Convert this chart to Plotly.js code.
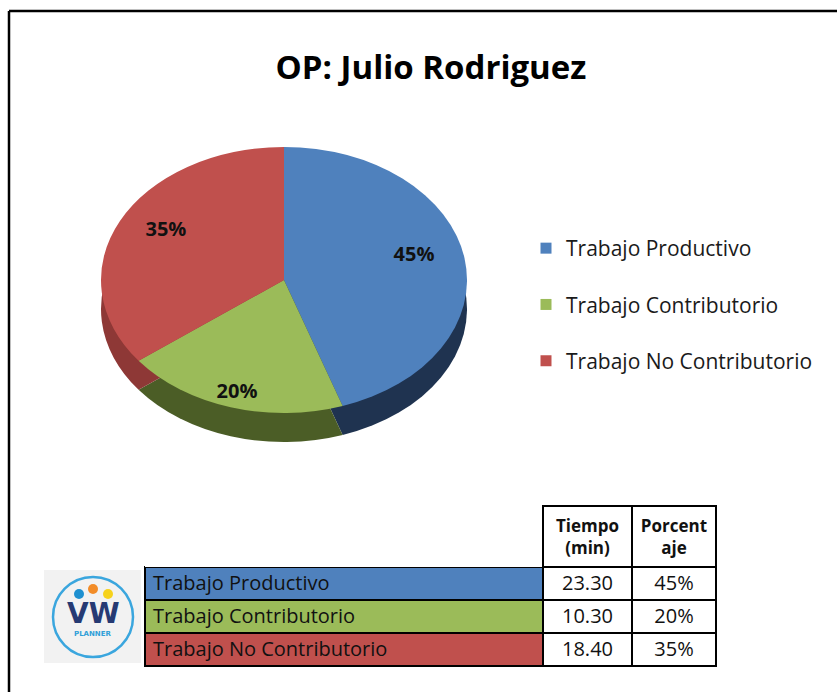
<!DOCTYPE html>
<html>
<head>
<meta charset="utf-8">
<script src="https://cdn.plot.ly/plotly-3.0.1.min.js"></script>
<style>
  html, body { margin: 0; padding: 0; background: #ffffff; }
  #chart { width: 837px; height: 692px; }
</style>
</head>
<body>
<div id="chart"></div>
<script>
// ---- data ----
const categories = ['Trabajo Productivo', 'Trabajo Contributorio', 'Trabajo No Contributorio'];
const tiempoMin = [23.30, 10.30, 18.40];
const headerLabels = ['', '<b>Tiempo<br>(min)</b>', '<b>Porcent<br>aje</b>'];
const chartTitle = 'OP: Julio Rodriguez';

// ---- styles ----
const topColors = ['#4F81BD', '#9BBB59', '#C0504D'];
const sideColors = ['#1F3350', '#4B5D26', '#8E3836'];
const FONT = '"Open Sans", Lato, sans-serif';
const W = 837, H = 692;
const K = 0.727;      // vertical squash of the tilted pie
const DEPTH = 29;     // thickness of the pie side in px
// perspective used for placing the percent labels on the tilted face
const LBL = { cy: 268, cyFront: 272, rBack: 125, rFront: 141, fBack: 0.72, fFront: 0.88 };

const total = tiempoMin.reduce((a, b) => a + b, 0);
const percents = tiempoMin.map(v => v / total);

function px(x) { return x / W; }
function py(y) { return 1 - y / H; }

// pie placement: centre (284,280) px, radius 183 px
const pieDomain = { x: [px(284 - 183), px(284 + 183)], y: [py(280 + 183), py(280 - 183)] };

const sidePie = {
  type: 'pie', values: tiempoMin, labels: categories, sort: false, direction: 'clockwise', rotation: 0,
  marker: { colors: sideColors, line: { width: 0 } },
  textinfo: 'none', hoverinfo: 'skip', showlegend: false, domain: pieDomain
};
const topPie = {
  type: 'pie', values: tiempoMin, labels: categories, sort: false, direction: 'clockwise', rotation: 0,
  marker: { colors: topColors, line: { width: 0 } },
  texttemplate: '%{percent:.0%}', textposition: 'inside', insidetextorientation: 'horizontal',
  textfont: { family: FONT, size: 20, weight: 'bold', color: '#111111' },
  hoverinfo: 'label+percent', showlegend: false, domain: pieDomain
};

// legend entries (one group each so spacing can be set)
const legendTraces = categories.map((c, i) => ({
  type: 'scatter', x: [null], y: [null], mode: 'markers', name: c, legendgroup: 'g' + i,
  marker: { symbol: 'square', size: 11, color: topColors[i] }, hoverinfo: 'skip'
}));

const table = {
  type: 'table',
  domain: { x: [px(145), px(716)], y: [py(685), py(506)] },
  columnwidth: [398, 89, 84],
  header: {
    values: headerLabels,
    align: 'center',
    height: 57,
    fill: { color: ['#ffffff', '#ffffff', '#ffffff'] },
    line: { color: ['rgba(0,0,0,0)', '#000000', '#000000'], width: 1.5 },
    font: { family: FONT, size: 17, color: '#111111' }
  },
  cells: {
    values: [categories, tiempoMin, percents],
    format: ['', '.2f', '.0%'],
    align: ['left', 'center', 'center'],
    height: 33,
    fill: { color: [topColors, ['#ffffff', '#ffffff', '#ffffff'], ['#ffffff', '#ffffff', '#ffffff']] },
    line: { color: '#000000', width: 1.5 },
    font: { family: FONT, size: 20, color: '#111111' }
  }
};

// logo + frame decorations
const shapes = [
  { type: 'line', xref: 'paper', yref: 'paper', x0: px(9), x1: 1, y0: py(11), y1: py(11), line: { color: '#000', width: 2.5 } },
  { type: 'line', xref: 'paper', yref: 'paper', x0: px(9), x1: px(9), y0: py(11), y1: 0, line: { color: '#000', width: 2.5 } },
  { type: 'rect', xref: 'paper', yref: 'paper', x0: px(44), x1: px(141), y0: py(663), y1: py(570), fillcolor: '#F2F2F2', line: { width: 0 } },
  { type: 'circle', xref: 'paper', yref: 'paper', x0: px(53), x1: px(133), y0: py(657), y1: py(577), line: { color: '#3AA6DE', width: 2.5 } },
  { type: 'circle', xref: 'paper', yref: 'paper', x0: px(74), x1: px(84), y0: py(599), y1: py(589), fillcolor: '#1E90D0', line: { width: 0 } },
  { type: 'circle', xref: 'paper', yref: 'paper', x0: px(88), x1: px(98), y0: py(594), y1: py(584), fillcolor: '#F28C28', line: { width: 0 } },
  { type: 'circle', xref: 'paper', yref: 'paper', x0: px(103), x1: px(113), y0: py(599), y1: py(589), fillcolor: '#F6D21C', line: { width: 0 } }
];
const annotations = [
  { xref: 'paper', yref: 'paper', x: px(93), y: py(613), text: '<b>VW</b>', showarrow: false,
    font: { family: '"DejaVu Sans", sans-serif', size: 28, color: '#263A73' }, xanchor: 'center', yanchor: 'middle' },
  { xref: 'paper', yref: 'paper', x: px(93), y: py(634), text: '<b>PLANNER</b>', showarrow: false,
    font: { family: '"DejaVu Sans", sans-serif', size: 7, color: '#2F9FD8' }, xanchor: 'center', yanchor: 'middle' }
];

const layout = {
  width: W, height: H, autosize: false,
  margin: { l: 0, r: 0, t: 0, b: 0, pad: 0 },
  paper_bgcolor: '#ffffff', plot_bgcolor: '#ffffff',
  title: { text: '<b>' + chartTitle + '</b>', x: px(431), y: py(67), xanchor: 'center', yanchor: 'middle',
           font: { family: FONT, size: 33, color: '#000000' } },
  xaxis: { visible: false }, yaxis: { visible: false },
  showlegend: true,
  legend: { x: px(526), y: py(228), xanchor: 'left', yanchor: 'top', traceorder: 'grouped', tracegroupgap: 26,
            font: { family: FONT, size: 21, color: '#1a1a1a' }, bgcolor: 'rgba(0,0,0,0)' },
  shapes: shapes,
  annotations: annotations
};

const gd = document.getElementById('chart');
Plotly.newPlot(gd, [sidePie, topPie, table].concat(legendTraces), layout, { staticPlot: true, displayModeBar: false })
  .then(finish);

function finish() {
  const cd0 = gd.calcdata[1][0];
  const cx = cd0.cx, cy = cd0.cy, r = cd0.r;
  const traces = gd.querySelectorAll('.pielayer .trace');
  // tilt the pie: squash vertically around its centre, side layer pushed down
  traces.forEach((g, i) => {
    const off = (i === 0) ? DEPTH : 0;
    g.querySelectorAll('path.surface').forEach(p => {
      p.setAttribute('transform', 'translate(0,' + (cy * (1 - K) + off) + ') scale(1,' + K + ')');
    });
  });
  // percent labels at the mid-angle of each slice on the tilted face
  const svgRect = gd.querySelector('svg.main-svg').getBoundingClientRect();
  let cum = 0;
  const mids = tiempoMin.map(v => { const m = (cum + v / 2) / total * 2 * Math.PI; cum += v; return m; });
  traces[1].querySelectorAll('g.slice').forEach((s, i) => {
    const t = s.querySelector('g.slicetext');
    if (!t) return;
    const b = t.getBoundingClientRect();
    const bx = b.left + b.width / 2 - svgRect.left;
    const by = b.top + b.height / 2 - svgRect.top;
    const c = Math.cos(mids[i]);
    const back = c >= 0;
    const f = back ? LBL.fBack : LBL.fFront;
    const rv = back ? LBL.rBack : LBL.rFront;
    const c0 = back ? LBL.cy : LBL.cyFront;
    const tx = cx + f * r * Math.sin(mids[i]);
    const ty = c0 - f * rv * c;
    t.setAttribute('transform', 'translate(' + (tx - bx) + ',' + (ty - by) + ')');
  });
  // centre each line of multi-line table headers
  gd.querySelectorAll('.table text').forEach(txt => {
    const lines = Array.from(txt.querySelectorAll('tspan.line'));
    if (lines.length < 2) return;
    const widths = lines.map(l => l.getComputedTextLength());
    const maxW = Math.max.apply(null, widths);
    lines.forEach((l, j) => {
      const x0 = parseFloat(l.getAttribute('x') || '0');
      l.setAttribute('x', x0 + (maxW - widths[j]) / 2);
    });
  });
}
</script>
</body>
</html>
